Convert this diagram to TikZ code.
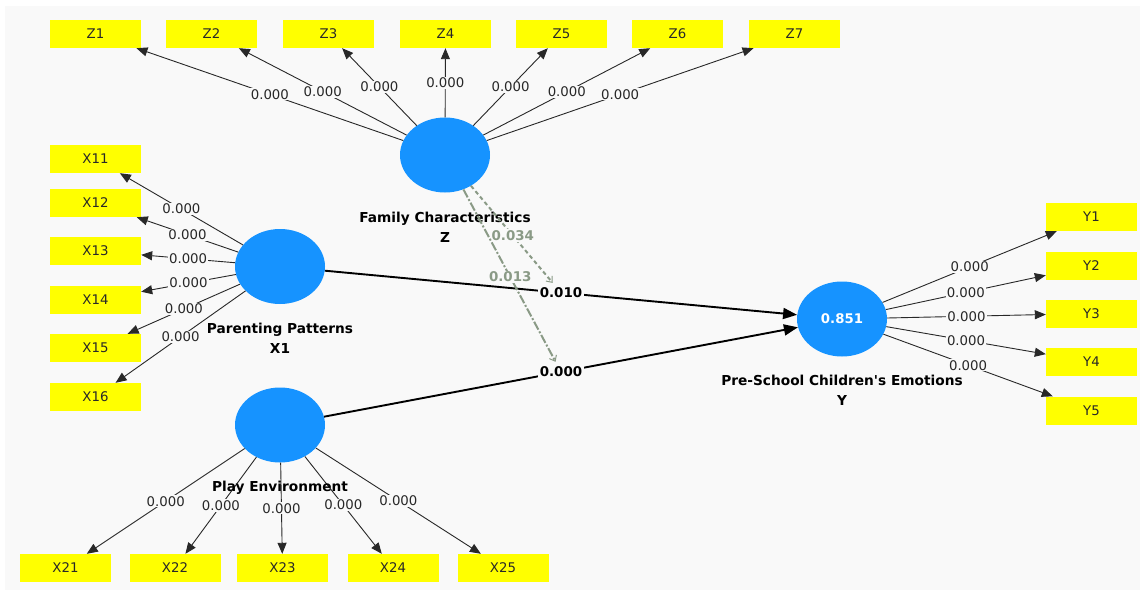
\documentclass[tikz,border=0pt]{standalone}
\usepackage{fontspec}
\setmainfont{DejaVu Sans}[Ligatures=TeXOff]
\usetikzlibrary{arrows.meta,shapes.geometric}
\definecolor{bgc}{RGB}{249,249,249}
\definecolor{yel}{RGB}{255,255,0}
\definecolor{lvblue}{RGB}{22,147,255}
\definecolor{modc}{RGB}{138,154,134}
\definecolor{txt}{RGB}{40,40,40}
\begin{document}
\begin{tikzpicture}[x=1pt,y=-1pt,
  ind/.style={fill=yel, minimum width=91pt, minimum height=28pt, inner sep=0pt,
    font=\fontsize{13.3}{15}\selectfont, text=txt},
  lat/.style={ellipse, fill=lvblue, minimum width=90pt, minimum height=75pt, inner sep=0pt,
    text=white, font=\bfseries\fontsize{13.3}{15}\selectfont},
  lname/.style={font=\bfseries\fontsize{13.7}{20}\selectfont, align=center, text=black},
  load/.style={-{Triangle[length=11pt,width=9pt]}, line width=0.9pt, draw=txt},
  lab/.style={fill=bgc, inner sep=1pt, font=\fontsize{13.3}{15}\selectfont, text=txt},
  spath/.style={-{Triangle[length=14pt,width=11pt]}, line width=1.9pt, draw=black},
  plab/.style={fill=bgc, inner sep=1.5pt, font=\bfseries\fontsize{13.4}{15}\selectfont, text=black},
  modA/.style={draw=modc, line width=2pt, dash pattern=on 4pt off 3pt,
    -{Straight Barb[length=5pt,width=8pt,line width=1pt]}, shorten >=3pt},
  modB/.style={draw=modc, line width=2pt, dash pattern=on 9pt off 2pt on 2pt off 2pt,
    -{Straight Barb[length=5pt,width=8pt,line width=1pt]}, shorten >=3pt},
  mlab/.style={fill=bgc, inner sep=1pt, font=\bfseries\fontsize{13.4}{15}\selectfont, text=modc}
]
\useasboundingbox (0,0) rectangle (1143,591);
\fill[white] (0,0) rectangle (1143,591);
\fill[bgc] (5,6) rectangle (1140,590);

% latent variables
\node[lat] (Z)  at (445,155) {};
\node[lat] (X1) at (280,266.5) {};
\node[lat] (X2) at (280,425) {};
\node[lat] (Y)  at (842,319) {0.851};

\node[lname] (Zn)  at (445,227) {Family Characteristics\\Z};
\node[lname] (X1n) at (280,338) {Parenting Patterns\\X1};
\node[lname] (Yn)  at (842,390) {Pre-School Children's Emotions\\Y};

% indicators Z
\node[ind] (z1) at (95.5,34) {Z1};
\node[ind] (z2) at (211.5,34) {Z2};
\node[ind] (z3) at (328.5,34) {Z3};
\node[ind] (z4) at (445.5,34) {Z4};
\node[ind] (z5) at (561.5,34) {Z5};
\node[ind] (z6) at (677.5,34) {Z6};
\node[ind] (z7) at (794.5,34) {Z7};
% indicators X1
\node[ind] (x11) at (95.5,159) {X11};
\node[ind] (x12) at (95.5,203) {X12};
\node[ind] (x13) at (95.5,251) {X13};
\node[ind] (x14) at (95.5,300) {X14};
\node[ind] (x15) at (95.5,348) {X15};
\node[ind] (x16) at (95.5,397) {X16};
% indicators X2
\node[ind] (x21) at (65.5,568) {X21};
\node[ind] (x22) at (175,568) {X22};
\node[ind] (x23) at (282.5,568) {X23};
\node[ind] (x24) at (393,568) {X24};
\node[ind] (x25) at (503,568) {X25};
% indicators Y
\node[ind] (y1) at (1091.5,217) {Y1};
\node[ind] (y2) at (1091.5,265.5) {Y2};
\node[ind] (y3) at (1091.5,313.5) {Y3};
\node[ind] (y4) at (1091.5,362) {Y4};
\node[ind] (y5) at (1091.5,410.5) {Y5};

% loadings
\foreach \t in {z1,z2,z3,z4,z5,z6,z7}
  \draw[load] (Z) -- node[lab] {0.000} (\t);
\foreach \t in {x11,x12,x13,x14,x15,x16}
  \draw[load] (X1) -- node[lab] {0.000} (\t);
\foreach \t in {x21,x22,x23,x24,x25}
  \draw[load] (X2) -- node[lab] {0.000} (\t);
\foreach \t in {y1,y2,y3,y4,y5}
  \draw[load] (Y) -- node[lab] {0.000} (\t);

% structural paths
\draw[spath] (X1) -- node[plab] (l1) {0.010} (Y);
\draw[spath] (X2) -- node[plab] (l2) {0.000} (Y);

% moderating effects
\draw[modA] (Z) -- node[mlab] {0.034} (l1);
\draw[modB] (Z) -- node[mlab] {0.013} (l2);

% latent name drawn over its loading lines
\node[lname] (X2n) at (280,488) {Play Environment};
\end{tikzpicture}
\end{document}
